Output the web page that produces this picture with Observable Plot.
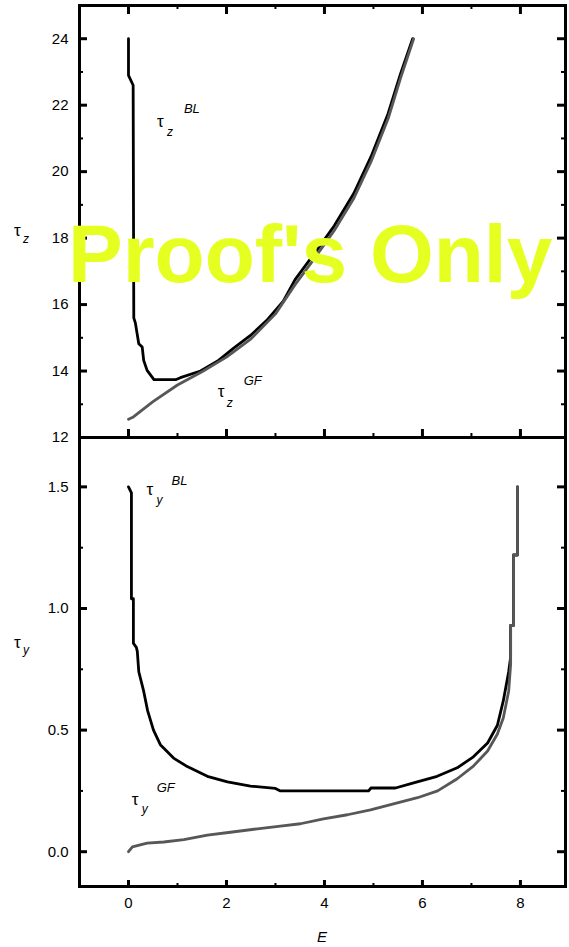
<!DOCTYPE html>
<html>
<head>
<meta charset="utf-8">
<script src="https://cdn.jsdelivr.net/npm/d3@7"></script>
<script src="https://cdn.jsdelivr.net/npm/@observablehq/plot@0.6"></script>
<style>
  html, body { margin: 0; padding: 0; background: #fff; overflow: hidden; }
  #chart { position: relative; width: 569px; height: 947px; }
  #chart svg { position: absolute; left: 0; }
</style>
</head>
<body>
<div id="chart"></div>
<script>
const FONT = '"Liberation Sans", Arial, Helvetica, sans-serif';

// Shared horizontal axis (energy E)
const X_DOMAIN = [-1, 8.92];
const X_MAJOR = [0, 2, 4, 6, 8];
const X_MINOR = [1, 3, 5, 7];

// Upper panel: tau_z
const TZ_DOMAIN = [12, 25];
const TZ_MAJOR = [12, 14, 16, 18, 20, 22, 24];
const TZ_MINOR = [13, 15, 17, 19, 21, 23];

const E_TZ_BL = [0, 0, 0.095, 0.108, 0.14, 0.21, 0.28, 0.31, 0.38, 0.52, 0.96, 1.06, 1.47, 1.82, 2.14, 2.49, 2.84, 3.16, 3.4, 3.8, 4.2, 4.6, 4.95, 5.3, 5.55, 5.8];
const TZ_BL   = [24.0, 22.9, 22.6, 15.6, 15.45, 14.82, 14.72, 14.32, 14.02, 13.74, 13.74, 13.8, 14.0, 14.3, 14.68, 15.07, 15.55, 16.1, 16.75, 17.55, 18.37, 19.35, 20.45, 21.75, 22.93, 24.0];

const E_TZ_GF = [0, 0.1, 0.5, 1.0, 1.5, 2.0, 2.5, 3.0, 3.4, 3.8, 4.2, 4.6, 4.95, 5.3, 5.55, 5.82];
const TZ_GF   = [12.55, 12.62, 13.08, 13.58, 13.98, 14.42, 14.97, 15.72, 16.6, 17.4, 18.23, 19.2, 20.3, 21.6, 22.8, 24.0];

// Lower panel: tau_y
const TY_DOMAIN = [-0.143, 1.703];
const TY_MAJOR = [0, 0.5, 1.0, 1.5];
const TY_MINOR = [0.25, 0.75, 1.25];

const E_TY_BL = [0, 0.06, 0.06, 0.1, 0.1, 0.16, 0.18, 0.21, 0.31, 0.39, 0.51, 0.65, 0.92, 1.2, 1.61, 2.02, 2.49, 3.0, 3.1, 4.9, 4.95, 5.45, 5.82, 6.3, 6.71, 7.04, 7.33, 7.53, 7.65, 7.76, 7.8, 7.8, 7.86, 7.86, 7.94, 7.94];
const TY_BL   = [1.5, 1.475, 1.04, 1.04, 0.857, 0.84, 0.824, 0.74, 0.66, 0.58, 0.5, 0.44, 0.385, 0.35, 0.31, 0.287, 0.27, 0.26, 0.25, 0.25, 0.262, 0.262, 0.283, 0.31, 0.345, 0.39, 0.447, 0.52, 0.62, 0.74, 0.8, 0.93, 0.93, 1.22, 1.22, 1.5];

const E_TY_GF = [0, 0.08, 0.24, 0.38, 0.72, 1.13, 1.61, 2.08, 2.63, 3.1, 3.51, 3.98, 4.47, 4.94, 5.41, 5.9, 6.31, 6.71, 7.04, 7.33, 7.53, 7.65, 7.76, 7.8, 7.8, 7.86, 7.86, 7.94, 7.94];
const TY_GF   = [0, 0.02, 0.028, 0.035, 0.04, 0.05, 0.068, 0.08, 0.094, 0.105, 0.115, 0.135, 0.152, 0.172, 0.197, 0.222, 0.25, 0.3, 0.352, 0.414, 0.484, 0.55, 0.66, 0.77, 0.93, 0.93, 1.22, 1.22, 1.5];

const rows = (xs, ys) => xs.map((E, i) => ({E, v: ys[i]}));

const W = 569, ML = 79, MR = 4;
const PW = W - ML - MR;
const BLACK = "#000", GRAY = "#575757";

// Inward-pointing ticks on the chosen sides of a panel frame
function frameTicks(PH, yMajor, yMinor, top, bottomLen) {
  const m = [
    Plot.tickY(yMajor, {y: d => d, insetRight: PW - 8, strokeWidth: 3}),
    Plot.tickY(yMajor, {y: d => d, insetLeft: PW - 8, strokeWidth: 3}),
    Plot.tickY(yMinor, {y: d => d, insetRight: PW - 4, strokeWidth: 2}),
    Plot.tickY(yMinor, {y: d => d, insetLeft: PW - 4, strokeWidth: 2}),
    Plot.tickX(X_MAJOR, {x: d => d, insetTop: PH - bottomLen, strokeWidth: 3}),
    Plot.tickX(X_MINOR, {x: d => d, insetTop: PH - bottomLen / 2, strokeWidth: 2})
  ];
  if (top) {
    m.push(Plot.tickX(X_MAJOR, {x: d => d, insetBottom: PH - 9, strokeWidth: 3}));
    m.push(Plot.tickX(X_MINOR, {x: d => d, insetBottom: PH - 4, strokeWidth: 2}));
  }
  return m;
}

// Upper panel
const TOP_H = 440, TOP_MT = 5, TOP_MB = 3;
const topPlot = Plot.plot({
  width: W, height: TOP_H,
  marginLeft: ML, marginRight: MR, marginTop: TOP_MT, marginBottom: TOP_MB,
  style: {fontFamily: FONT, fontSize: "15px", background: "transparent", overflow: "visible"},
  x: {domain: X_DOMAIN, axis: null},
  y: {domain: TZ_DOMAIN},
  marks: [
    Plot.line(rows(E_TZ_BL, TZ_BL), {x: "E", y: "v", stroke: BLACK, strokeWidth: 2.8}),
    Plot.line(rows(E_TZ_GF, TZ_GF), {x: "E", y: "v", stroke: GRAY, strokeWidth: 2.8}),
    Plot.frame({stroke: BLACK, strokeWidth: 3}),
    ...frameTicks(TOP_H - TOP_MT - TOP_MB, TZ_MAJOR, TZ_MINOR, true, 8),
    Plot.axisY({ticks: TZ_MAJOR, tickSize: 0, tickPadding: 11, fontSize: 15, label: null, tickFormat: d => String(d)})
  ]
});
topPlot.style.top = "0px";

// Lower panel
const BOT_TOP = 432, BOT_H = 515, BOT_MT = 5, BOT_MB = 61;
const botPlot = Plot.plot({
  width: W, height: BOT_H,
  marginLeft: ML, marginRight: MR, marginTop: BOT_MT, marginBottom: BOT_MB,
  style: {fontFamily: FONT, fontSize: "15px", background: "transparent", overflow: "visible"},
  x: {domain: X_DOMAIN},
  y: {domain: TY_DOMAIN},
  marks: [
    Plot.line(rows(E_TY_BL, TY_BL), {x: "E", y: "v", stroke: BLACK, strokeWidth: 2.8}),
    Plot.line(rows(E_TY_GF, TY_GF), {x: "E", y: "v", stroke: GRAY, strokeWidth: 2.8}),
    Plot.frame({stroke: BLACK, strokeWidth: 3}),
    ...frameTicks(BOT_H - BOT_MT - BOT_MB, TY_MAJOR, TY_MINOR, false, 6),
    Plot.axisY({ticks: TY_MAJOR, tickSize: 0, tickPadding: 11, fontSize: 15, label: null, tickFormat: d3.format(".1f")}),
    Plot.axisX({ticks: X_MAJOR, tickSize: 0, tickPadding: 11, fontSize: 15, label: null, tickFormat: d => String(d)})
  ]
});
botPlot.style.top = BOT_TOP + "px";

const chart = document.getElementById("chart");
chart.append(topPlot, botPlot);

// tau with an italic subscript and an optional italic superscript tag
function tau(svg, px, py, sub, sup, subOff, supOff) {
  const g = d3.select(svg).append("g")
    .attr("transform", `translate(${px},${py})`)
    .attr("font-family", FONT).attr("fill", "#000")
    .attr("text-anchor", "start");
  g.append("text").attr("font-size", 17).text("τ");
  g.append("text").attr("x", subOff[0]).attr("y", subOff[1])
    .attr("font-size", 12).attr("font-style", "italic").text(sub);
  if (sup) {
    g.append("text").attr("x", supOff[0]).attr("y", supOff[1])
      .attr("font-size", 13).attr("font-style", "italic").text(sup);
  }
}

const xt = topPlot.scale("x"), yt = topPlot.scale("y");
const xb = botPlot.scale("x"), yb = botPlot.scale("y");

// Axis titles
tau(topPlot, 14, yt.apply(18.05), "z", null, [9, 7]);
tau(botPlot, 14, yb.apply(0.835), "y", null, [9, 6]);

// Curve tags
tau(topPlot, xt.apply(0.59), yt.apply(21.33), "z", "BL", [10, 9], [27, -14]);
tau(topPlot, xt.apply(1.83), yt.apply(13.2), "z", "GF", [9, 10], [26, -12]);
tau(botPlot, xb.apply(0.38), yb.apply(1.465), "y", "BL", [10, 9], [25, -10]);
tau(botPlot, xb.apply(0.075), yb.apply(0.188), "y", "GF", [10, 8], [25, -13]);

// Horizontal axis title
d3.select(botPlot).append("text")
  .attr("x", (ML + W - MR) / 2).attr("y", BOT_H - 5)
  .attr("text-anchor", "middle").attr("font-family", FONT)
  .attr("font-size", 15).attr("font-style", "italic").text("E");

// Proof stamp across the upper panel
d3.select(topPlot).append("text")
  .attr("x", 68).attr("y", 282)
  .attr("text-anchor", "start")
  .attr("font-family", FONT).attr("font-weight", "bold")
  .attr("font-size", 82).attr("fill", "#e4ff20")
  .text("Proof's Only");
</script>
</body>
</html>
